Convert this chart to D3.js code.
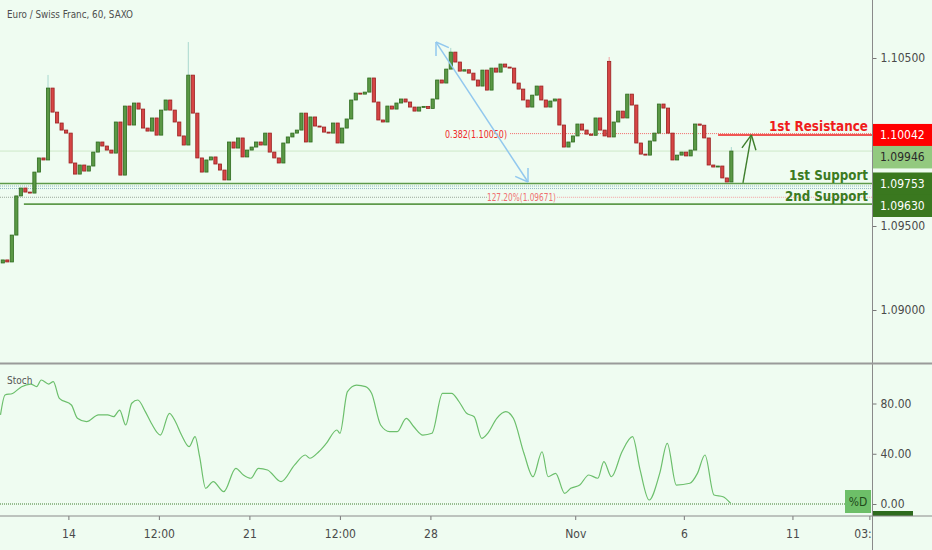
<!DOCTYPE html>
<html>
<head>
<meta charset="utf-8">
<script src="https://cdn.jsdelivr.net/npm/d3@7"></script>
<style>
html, body { margin: 0; padding: 0; background: #effcf1; }
svg { display: block; }
text { font-family: 'DejaVu Sans Condensed', 'DejaVu Sans', sans-serif; }
</style>
</head>
<body>
<svg id="chart" width="932" height="550"></svg>
<script>
// 3-hour closes (EUR/CHF)
const firstOpen = 1.09280;
const closes = [
  1.09298, 1.09286, 1.09446, 1.09679, 1.09726, 1.09702, 1.09696, 1.09821, 1.09905, 1.09893,
  1.10321, 1.10178, 1.10113, 1.10071, 1.10053, 1.09875, 1.09809, 1.09863, 1.09827, 1.09857,
  1.09940, 1.10000, 1.09976, 1.09952, 1.09934, 1.10119, 1.09803, 1.10214, 1.10101, 1.10232,
  1.10196, 1.10083, 1.10065, 1.10143, 1.10041, 1.10190, 1.10250, 1.10190, 1.10119, 1.10036,
  1.09982, 1.10398, 1.10172, 1.09905, 1.09821, 1.09893, 1.09911, 1.09869, 1.09833, 1.09774,
  1.10000, 1.09964, 1.10024, 1.09911, 1.09952, 1.09970, 1.10000, 1.09982, 1.10053, 1.09940,
  1.09905, 1.09875, 1.09994, 1.10030, 1.10053, 1.10071, 1.10172, 1.10000, 1.10149, 1.10095,
  1.10089, 1.10059, 1.10053, 1.10113, 1.09994, 1.10083, 1.10137, 1.10250, 1.10291, 1.10285,
  1.10297, 1.10381, 1.10238, 1.10131, 1.10119, 1.10214, 1.10196, 1.10232, 1.10256, 1.10238,
  1.10208, 1.10184, 1.10208, 1.10212, 1.10200, 1.10256, 1.10369, 1.10351, 1.10434, 1.10535,
  1.10476, 1.10422, 1.10430, 1.10410, 1.10369, 1.10333, 1.10428, 1.10309, 1.10440, 1.10416,
  1.10464, 1.10446, 1.10440, 1.10351, 1.10315, 1.10250, 1.10208, 1.10279, 1.10333, 1.10250,
  1.10208, 1.10244, 1.10256, 1.10101, 1.09970, 1.10000, 1.10036, 1.10107, 1.10071, 1.10047,
  1.10040, 1.10143, 1.10071, 1.10036, 1.10030, 1.10119, 1.10184, 1.10143, 1.10285, 1.10220,
  1.09994, 1.09928, 1.09922, 1.10006, 1.10053, 1.10226, 1.10202, 1.10053, 1.09893, 1.09922,
  1.09940, 1.09917, 1.09952, 1.10107, 1.10100, 1.10024, 1.09863, 1.09851, 1.09857, 1.09786,
  1.09762, 1.09946
];
// candles that opened away from the previous close: [index, open]
const gapOpens = [[134, 1.10480]];
// [candle index, high] for the wicks that stand out
const spikes = [[10, 1.10399], [41, 1.10595], [99, 1.10560], [134, 1.10506], [161, 1.09970]];

const tickHours = [45, 105, 165, 225, 285, 381, 453, 525, 576];
const tickLabels = ['14', '12:00', '21', '12:00', '28', 'Nov', '6', '11', '03:00'];
const priceTicks = [1.09, 1.095, 1.105];

const stochHour = [0, 3, 8, 14, 20, 24, 27, 32, 35, 39, 47, 51, 57, 65, 71, 75, 79, 83, 87, 91,
  96, 100, 106, 112, 116, 120, 125, 129, 132, 136, 141, 148, 156, 161, 166, 171, 177, 186, 195, 202,
  205, 211, 216, 223, 225, 230, 236, 242, 246, 252, 258, 263, 269, 274, 280, 286, 293, 299, 304, 309,
  314, 319, 323, 329, 335, 340, 347, 353, 359, 363, 368, 374, 378, 384, 390, 396, 400, 405, 412, 419,
  424, 430, 437, 442, 448, 457, 462, 467, 473, 479, 484];
const stochD = [70.9, 86.8, 88, 93.4, 95.5, 93.4, 98.7, 95.5, 97.4, 84.1, 78.8, 68.2, 65.5, 70.9, 70.9, 69.5, 74.8, 62.9, 80.2, 82.8,
  73.5, 64.3, 54.9, 72.2, 65.5, 54.9, 45.6, 53.6, 37.7, 12.5, 17.8, 9.8, 28.4, 23.1, 20.5, 28.4, 27.1, 17.8, 31.1, 39,
  36.4, 41.6, 48.3, 58.9, 56.3, 89.4, 94.7, 93.4, 88.1, 62.9, 57.6, 57.6, 68.2, 61.5, 54.9, 56.3, 88.1, 88.1, 81.4, 72.2,
  69.5, 52.3, 56.3, 68.2, 73.5, 68.2, 40.4, 21.7, 41.6, 21.7, 24.4, 8.5, 12.5, 15.1, 23.1, 20.5, 33.7, 21.7, 41.6, 53.6,
  27.1, 3.2, 24.4, 48.3, 15.1, 16.5, 24.4, 39, 7.2, 5.8, 0.6];
const stochTicks = [0, 40, 80];

const resistance1 = 1.10042;
const support1 = 1.09753;
const support2 = 1.09630;
const lastPrice = 1.09946;
const fib382 = 1.10050;
const fib1272 = 1.09671;
const fibDots = [1.09738, 1.09723];
const fibArrow = [[288.7, 1.10595], [349.7, 1.09762]];
const targetArrow = [[492.2, 1.09756], [497.8, 1.10042]];

const W = 932, H = 550, axisX = 872.5;
const mainBottom = 363, stochTop = 365, stochBottom = 516;
const bg = '#effcf1';
const gFill = '#5a9845', gStroke = '#2e6b1e';
const rFill = '#d64545', rStroke = '#9a2020';

const svg = d3.select('#chart');
svg.append('rect').attr('width', W).attr('height', H).attr('fill', bg);

const defs = svg.append('defs');
defs.append('clipPath').attr('id', 'mainClip')
  .append('rect').attr('x', 0).attr('y', 0).attr('width', axisX).attr('height', mainBottom);
defs.append('clipPath').attr('id', 'stochClip')
  .append('rect').attr('x', 0).attr('y', stochTop).attr('width', axisX).attr('height', stochBottom - stochTop);
defs.append('clipPath').attr('id', 'timeClip')
  .append('rect').attr('x', 0).attr('y', stochBottom).attr('width', axisX).attr('height', H - stochBottom);

const x = d3.scaleLinear().domain([0, 578]).range([0.5, 872.4]);
const y = d3.scaleLinear().domain([1.09, 1.105]).range([310, 58]);
const ys = d3.scaleLinear().domain([0, 80]).range([504, 403.5]);

const main = svg.append('g').attr('clip-path', 'url(#mainClip)');

// last price line
main.append('line')
  .attr('x1', 0).attr('x2', axisX)
  .attr('y1', y(lastPrice)).attr('y2', y(lastPrice))
  .attr('stroke', '#cde9c8').attr('stroke-width', 1);

// fib dotted levels
fibDots.forEach(p => {
  main.append('line')
    .attr('x1', 0).attr('x2', axisX)
    .attr('y1', y(p)).attr('y2', y(p))
    .attr('stroke', '#8fb7c8').attr('stroke-width', 1).attr('stroke-dasharray', '1,1');
});
main.append('line')
  .attr('x1', 0).attr('x2', x(322.5))
  .attr('y1', y(fib1272)).attr('y2', y(fib1272))
  .attr('stroke', '#9aa79a').attr('stroke-width', 1).attr('stroke-dasharray', '1,1');
main.append('line')
  .attr('x1', x(369)).attr('x2', axisX)
  .attr('y1', y(fib1272)).attr('y2', y(fib1272))
  .attr('stroke', '#f3a0a0').attr('stroke-width', 1).attr('stroke-dasharray', '1,1');
main.append('text')
  .attr('x', x(322.5)).attr('y', y(fib1272) + 4)
  .attr('font-size', 10).attr('fill', '#ef7070')
  .attr('textLength', 69).attr('lengthAdjust', 'spacingAndGlyphs')
  .text('127.20%(1.09671)');

main.append('line')
  .attr('x1', x(337.8)).attr('x2', axisX)
  .attr('y1', y(fib382)).attr('y2', y(fib382))
  .attr('stroke', '#f36a6a').attr('stroke-width', 1).attr('stroke-dasharray', '1,1');
main.append('text')
  .attr('x', x(335.8)).attr('y', y(fib382) + 4).attr('text-anchor', 'end')
  .attr('font-size', 10).attr('fill', '#f02a2a')
  .attr('textLength', 62).attr('lengthAdjust', 'spacingAndGlyphs')
  .text('0.382(1.10050)');

// support / resistance lines
main.append('line')
  .attr('x1', 0).attr('x2', axisX)
  .attr('y1', y(support1)).attr('y2', y(support1))
  .attr('stroke', '#5e9a4a').attr('stroke-width', 1.6);
main.append('line')
  .attr('x1', x(15.5)).attr('x2', axisX)
  .attr('y1', y(support2)).attr('y2', y(support2))
  .attr('stroke', '#5e9a4a').attr('stroke-width', 1.6);
main.append('line')
  .attr('x1', x(475.7)).attr('x2', axisX)
  .attr('y1', y(resistance1)).attr('y2', y(resistance1))
  .attr('stroke', '#f02020').attr('stroke-width', 1.5);

// candles
const gapMap = new Map(gapOpens);
const candles = closes.map((c, i) => ({
  h: 3 * i + 1.5,
  o: gapMap.has(i) ? gapMap.get(i) : (i === 0 ? firstOpen : closes[i - 1]),
  c: c
}));
const bw = 3.2;

main.append('g').selectAll('line')
  .data(spikes)
  .enter().append('line')
  .attr('x1', d => x(candles[d[0]].h)).attr('x2', d => x(candles[d[0]].h))
  .attr('y1', d => y(d[1]))
  .attr('y2', d => y(Math.max(candles[d[0]].o, candles[d[0]].c)))
  .attr('stroke', d => candles[d[0]].c >= candles[d[0]].o ? '#a9d8cf' : '#f0a0a0')
  .attr('stroke-width', 1);

main.append('g').selectAll('rect')
  .data(candles)
  .enter().append('rect')
  .attr('x', d => x(d.h) - bw / 2)
  .attr('width', bw)
  .attr('y', d => y(Math.max(d.o, d.c)))
  .attr('height', d => Math.max(1, Math.abs(y(d.o) - y(d.c))))
  .attr('fill', d => d.c >= d.o ? gFill : rFill)
  .attr('stroke', d => d.c >= d.o ? gStroke : rStroke)
  .attr('stroke-width', 0.8);

// arrows
function arrow(pts, color, width, len, ang, both) {
  const p0 = [x(pts[0][0]), y(pts[0][1])];
  const p1 = [x(pts[1][0]), y(pts[1][1])];
  main.append('line')
    .attr('x1', p0[0]).attr('y1', p0[1]).attr('x2', p1[0]).attr('y2', p1[1])
    .attr('stroke', color).attr('stroke-width', width);
  const heads = both ? [[p1, p0], [p0, p1]] : [[p0, p1]];
  heads.forEach(([a, b]) => {
    const back = Math.atan2(a[1] - b[1], a[0] - b[0]);
    [-ang, ang].forEach(da => {
      main.append('line')
        .attr('x1', b[0]).attr('y1', b[1])
        .attr('x2', b[0] + len * Math.cos(back + da))
        .attr('y2', b[1] + len * Math.sin(back + da))
        .attr('stroke', color).attr('stroke-width', width);
    });
  });
}
arrow(fibArrow, '#92c8ee', 1.5, 14, 0.58, true);
arrow(targetArrow, '#3d7d2a', 1.4, 16, 0.46, false);

// level captions
function caption(txt, yy, color, len) {
  svg.append('text')
    .attr('x', 868).attr('y', yy).attr('text-anchor', 'end')
    .attr('font-size', 14).attr('font-weight', 'bold').attr('fill', color)
    .attr('textLength', len).attr('lengthAdjust', 'spacingAndGlyphs')
    .text(txt);
}
caption('1st Resistance', y(resistance1) - 4, '#f01c1c', 99);
caption('1st Support', y(support1) - 3, '#3b7a22', 79);
caption('2nd Support', y(support2) - 3, '#3b7a22', 83);

// title
svg.append('text')
  .attr('x', 7).attr('y', 18)
  .attr('font-size', 11).attr('fill', '#4e4e4e')
  .attr('textLength', 126).attr('lengthAdjust', 'spacingAndGlyphs')
  .text('Euro / Swiss Franc, 60, SAXO');

// stochastic pane
const stoch = svg.append('g').attr('clip-path', 'url(#stochClip)');
stoch.append('line')
  .attr('x1', 0).attr('x2', 845)
  .attr('y1', ys(0)).attr('y2', ys(0))
  .attr('stroke', '#3f7f2f').attr('stroke-width', 1).attr('stroke-dasharray', '1,1');
const stochLine = d3.line()
  .x((d, i) => x(stochHour[i]))
  .y(d => ys(d))
  .curve(d3.curveMonotoneX);
stoch.append('path')
  .attr('d', stochLine(stochD))
  .attr('fill', 'none').attr('stroke', '#6cbf6c').attr('stroke-width', 1.2);
svg.append('text')
  .attr('x', 7).attr('y', 384)
  .attr('font-size', 10).attr('fill', '#555')
  .text('Stoch');
svg.append('rect')
  .attr('x', 845).attr('y', 490).attr('width', 26).attr('height', 23)
  .attr('fill', '#6dbf68');
svg.append('text')
  .attr('x', 858).attr('y', 506).attr('text-anchor', 'middle')
  .attr('font-size', 12).attr('fill', '#1f4a1a')
  .text('%D');

// axes
function styleAxis(g) {
  g.selectAll('.domain').remove();
  g.selectAll('.tick line').attr('stroke', '#777');
  g.selectAll('.tick text').attr('fill', '#4a4a4a').attr('font-size', 12)
    .attr('font-family', "'DejaVu Sans Condensed', 'DejaVu Sans', sans-serif");
}
svg.append('g')
  .attr('transform', `translate(${axisX},0)`)
  .call(d3.axisRight(y).tickValues(priceTicks).tickFormat(d3.format('.5f')).tickSize(4).tickPadding(4))
  .call(styleAxis);
svg.append('g')
  .attr('transform', `translate(${axisX},0)`)
  .call(d3.axisRight(ys).tickValues(stochTicks).tickFormat(d3.format('.2f')).tickSize(4).tickPadding(4))
  .call(styleAxis);
svg.append('g')
  .attr('clip-path', 'url(#timeClip)')
  .append('g')
  .attr('transform', `translate(0,${stochBottom})`)
  .call(d3.axisBottom(x).tickValues(tickHours).tickFormat((d, i) => tickLabels[i]).tickSize(4).tickPadding(9))
  .call(styleAxis);

// price labels on the axis
const tags = [
  {p: resistance1, fill: '#ff0000', color: '#fff', gap: 0},
  {p: lastPrice, fill: '#93c97f', color: '#2a2a2a', gap: 0},
  {p: support1, fill: '#3a781f', color: '#fff', gap: 4},
  {p: support2, fill: '#3a781f', color: '#fff', gap: 0}
];
let prevBottom = -Infinity;
tags.forEach(t => {
  t.top = Math.max(y(t.p) - 11, prevBottom + t.gap);
  prevBottom = t.top + 22;
});
svg.append('g').selectAll('rect')
  .data(tags)
  .enter().append('rect')
  .attr('x', axisX + 0.5).attr('y', d => d.top)
  .attr('width', W - axisX).attr('height', 22.5)
  .attr('fill', d => d.fill);
svg.append('g').selectAll('text')
  .data(tags)
  .enter().append('text')
  .attr('x', 880).attr('y', d => d.top + 15.5)
  .attr('font-size', 12).attr('fill', d => d.color)
  .text(d => d3.format('.5f')(d.p));
svg.append('rect')
  .attr('x', axisX + 0.5).attr('y', 511).attr('width', 40).attr('height', 5)
  .attr('fill', '#2e6b1e');

// frame lines
svg.append('line')
  .attr('x1', axisX).attr('x2', axisX).attr('y1', 0).attr('y2', H)
  .attr('stroke', '#8a8a8a').attr('stroke-width', 1);
svg.append('line')
  .attr('x1', 0).attr('x2', W).attr('y1', mainBottom + 0.5).attr('y2', mainBottom + 0.5)
  .attr('stroke', '#9a9a9a').attr('stroke-width', 2);
svg.append('line')
  .attr('x1', 0).attr('x2', W).attr('y1', stochBottom).attr('y2', stochBottom)
  .attr('stroke', '#8a8a8a').attr('stroke-width', 1);
</script>
</body>
</html>
